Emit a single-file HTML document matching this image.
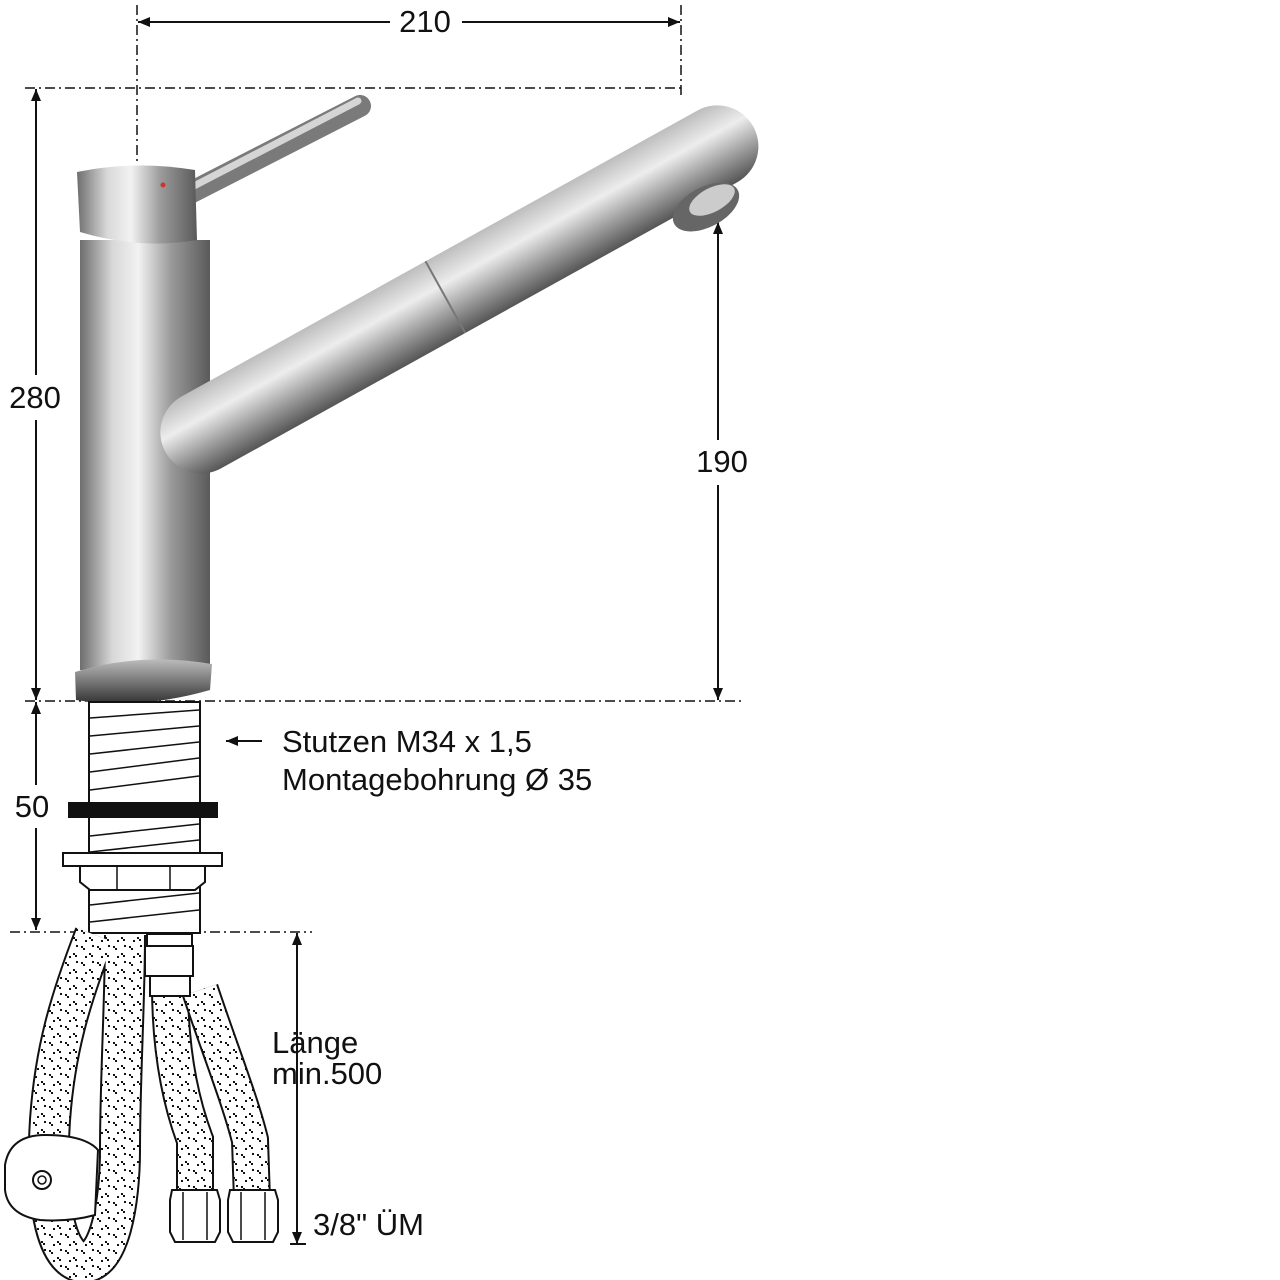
<!DOCTYPE html>
<html><head><meta charset="utf-8"><style>
html,body{margin:0;padding:0;background:#fff}
svg{display:block}
text{font-family:"Liberation Sans",sans-serif;fill:#111}
</style></head><body>
<svg width="1280" height="1280" viewBox="0 0 1280 1280" xmlns="http://www.w3.org/2000/svg">
<defs>
<linearGradient id="body" x1="0" x2="1" y1="0" y2="0">
<stop offset="0" stop-color="#6e6e6e"/><stop offset="0.25" stop-color="#d8d8d8"/><stop offset="0.45" stop-color="#f2f2f2"/><stop offset="0.7" stop-color="#9a9a9a"/><stop offset="1" stop-color="#5a5a5a"/>
</linearGradient>
<linearGradient id="spout" x1="0" x2="0" y1="0" y2="1">
<stop offset="0" stop-color="#bdbdbd"/><stop offset="0.35" stop-color="#ededed"/><stop offset="0.7" stop-color="#9a9a9a"/><stop offset="1" stop-color="#555"/>
</linearGradient>
<linearGradient id="base" x1="0" x2="0" y1="0" y2="1">
<stop offset="0" stop-color="#bbb"/><stop offset="0.5" stop-color="#777"/><stop offset="1" stop-color="#333"/>
</linearGradient>
<pattern id="dots" width="16" height="16" patternUnits="userSpaceOnUse">
<rect width="16" height="16" fill="#fff"/>
<rect x="1" y="2" width="2" height="2" fill="#111"/><rect x="3" y="4" width="2" height="2" fill="#111"/>
<rect x="9" y="9" width="2" height="2" fill="#111"/><rect x="11" y="11" width="2" height="2" fill="#111"/>
<rect x="12" y="1" width="2" height="2" fill="#111"/><rect x="5" y="12" width="2" height="2" fill="#111"/>
</pattern>
<marker id="ar" markerWidth="12" markerHeight="10" refX="12" refY="5" orient="auto" markerUnits="userSpaceOnUse">
<path d="M0,0 L12,5 L0,10 z" fill="#111"/></marker>
<marker id="al" markerWidth="12" markerHeight="10" refX="0" refY="5" orient="auto" markerUnits="userSpaceOnUse">
<path d="M12,0 L0,5 L12,10 z" fill="#111"/></marker>
</defs>

<g stroke="#111" stroke-width="1.5" stroke-dasharray="10,4,2,4" fill="none">
<line x1="137" y1="5" x2="137" y2="165"/>
<line x1="681" y1="5" x2="681" y2="98"/>
<line x1="25" y1="88" x2="681" y2="88"/>
<line x1="25" y1="701" x2="745" y2="701"/>
<line x1="10" y1="932" x2="312" y2="932"/>
</g>

<g stroke="#111" stroke-width="2" fill="none">
<line x1="138" y1="22" x2="390" y2="22" marker-start="url(#al)"/>
<line x1="462" y1="22" x2="680" y2="22" marker-end="url(#ar)"/>
<line x1="36" y1="89" x2="36" y2="375" marker-start="url(#al)"/>
<line x1="36" y1="420" x2="36" y2="700" marker-end="url(#ar)"/>
<line x1="718" y1="222" x2="718" y2="440" marker-start="url(#al)"/>
<line x1="718" y1="485" x2="718" y2="700" marker-end="url(#ar)"/>
<line x1="36" y1="702" x2="36" y2="785" marker-start="url(#al)"/>
<line x1="36" y1="828" x2="36" y2="930" marker-end="url(#ar)"/>
<line x1="297" y1="933" x2="297" y2="1244" marker-start="url(#al)" marker-end="url(#ar)"/>
<line x1="262" y1="741" x2="226" y2="741" marker-end="url(#ar)"/>
<line x1="290" y1="1244" x2="306" y2="1244"/>
</g>

<g font-size="31">
<text x="425" y="32" text-anchor="middle">210</text>
<text x="35" y="408" text-anchor="middle">280</text>
<text x="722" y="472" text-anchor="middle">190</text>
<text x="32" y="817" text-anchor="middle">50</text>
<text x="282" y="752">Stutzen M34 x 1,5</text>
<text x="282" y="790">Montagebohrung Ø 35</text>
<text x="272" y="1053">Länge</text>
<text x="272" y="1084">min.500</text>
<text x="313" y="1235">3/8" ÜM</text>
</g>

<line x1="192" y1="192" x2="360" y2="106" stroke="#7a7a7a" stroke-width="22" stroke-linecap="round"/>
<line x1="192" y1="187" x2="358" y2="101" stroke="#d5d5d5" stroke-width="7" stroke-linecap="round"/>
<rect x="80" y="240" width="130" height="430" fill="url(#body)"/>
<path d="M77 172 Q135 160 195 170 L197 240 Q140 250 80 232 Z" fill="url(#body)"/>
<circle cx="163" cy="185" r="2.5" fill="#c33"/>
<path d="M75 672 Q140 652 212 664 L210 690 Q140 710 76 700 Z" fill="url(#base)"/>
<g transform="rotate(-29 200 432)">
<rect x="160" y="392" width="672" height="82" rx="41" fill="url(#spout)"/>
<line x1="480" y1="392" x2="480" y2="474" stroke="#777" stroke-width="2"/>
</g>
<ellipse cx="706" cy="207" rx="36" ry="20" transform="rotate(-28 706 207)" fill="#666"/>
<ellipse cx="712" cy="200" rx="25" ry="12" transform="rotate(-28 712 200)" fill="#ccc"/>

<rect x="89" y="702" width="111" height="231" fill="#fff" stroke="#111" stroke-width="2"/>
<g stroke="#111" stroke-width="1.5">
<line x1="90" y1="718" x2="199" y2="710"/><line x1="90" y1="736" x2="199" y2="726"/>
<line x1="90" y1="754" x2="199" y2="742"/><line x1="90" y1="772" x2="199" y2="758"/>
<line x1="90" y1="790" x2="199" y2="776"/><line x1="90" y1="836" x2="199" y2="824"/>
<line x1="90" y1="852" x2="199" y2="840"/><line x1="90" y1="905" x2="199" y2="893"/>
<line x1="90" y1="922" x2="199" y2="910"/>
</g>
<rect x="68" y="802" width="150" height="16" fill="#111"/>
<rect x="63" y="853" width="159" height="13" fill="#fff" stroke="#111" stroke-width="2"/>
<path d="M80 866 L205 866 L205 882 L195 890 L90 890 L80 882 Z" fill="#fff" stroke="#111" stroke-width="2"/>
<line x1="117" y1="866" x2="117" y2="890" stroke="#111" stroke-width="1.5"/>
<line x1="170" y1="866" x2="170" y2="890" stroke="#111" stroke-width="1.5"/>

<g fill="none">
<path id="h1" d="M95 935 C70 1000 55 1050 50 1120 C45 1200 55 1255 80 1262 C110 1268 120 1200 120 1150 C120 1080 125 1000 125 935"/>
<path id="h2" d="M170 985 C170 1050 180 1100 195 1140 L195 1200"/>
<path id="h3" d="M200 990 C220 1050 240 1100 250 1140 L252 1200"/>
</g>
<g fill="none">
<use href="#h1" stroke="#111" stroke-width="42"/><use href="#h1" stroke="url(#dots)" stroke-width="38"/>
<use href="#h2" stroke="#111" stroke-width="38"/><use href="#h2" stroke="url(#dots)" stroke-width="34"/>
<use href="#h3" stroke="#111" stroke-width="38"/><use href="#h3" stroke="url(#dots)" stroke-width="34"/>
</g>
<rect x="147" y="934" width="45" height="12" fill="#fff" stroke="#111" stroke-width="2"/>
<rect x="145" y="946" width="48" height="30" fill="#fff" stroke="#111" stroke-width="2"/>
<rect x="150" y="976" width="40" height="20" fill="#fff" stroke="#111" stroke-width="2"/>
<g fill="#fff" stroke="#111" stroke-width="2">
<path d="M172 1190 L217 1190 L220 1200 L220 1232 L215 1242 L175 1242 L170 1232 L170 1200 Z"/>
<path d="M230 1190 L275 1190 L278 1200 L278 1232 L273 1242 L233 1242 L228 1232 L228 1200 Z"/>
</g>
<g stroke="#111" stroke-width="1.5">
<line x1="183" y1="1192" x2="183" y2="1240"/><line x1="207" y1="1192" x2="207" y2="1240"/>
<line x1="241" y1="1192" x2="241" y2="1240"/><line x1="265" y1="1192" x2="265" y2="1240"/>
</g>
<path d="M5 1165 Q10 1135 45 1135 Q85 1135 98 1150 L95 1215 Q70 1222 40 1220 Q8 1215 5 1190 Z" fill="#fff" stroke="#111" stroke-width="2"/>
<circle cx="42" cy="1180" r="9" fill="#fff" stroke="#111" stroke-width="2"/>
<circle cx="42" cy="1180" r="4" fill="none" stroke="#111" stroke-width="1.5"/>
</svg>
</body></html>
